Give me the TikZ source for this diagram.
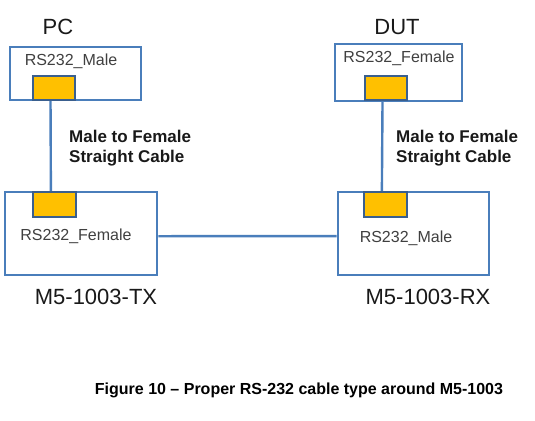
\documentclass[tikz,border=0pt]{standalone}
\usepackage{fontspec}
\setmainfont{Liberation Sans}
\usepackage{xcolor}
\definecolor{boxblue}{HTML}{4A7EBB}
\definecolor{portedge}{HTML}{3A5F8E}
\definecolor{portfill}{HTML}{FFC000}
\definecolor{labelgray}{HTML}{404040}
\begin{document}
\begin{tikzpicture}[x=1pt,y=-1pt,
  box/.style={draw=boxblue, line width=2.6pt, fill=white},
  port/.style={draw=portedge, line width=2pt, fill=portfill, minimum width=42pt, minimum height=24pt, inner sep=0pt},
  conn/.style={font=\fontsize{16}{18}\selectfont, text=labelgray, inner sep=0pt},
  dev/.style={font=\fontsize{22}{24}\selectfont, text=black!90, inner sep=0pt},
  cabletext/.style={font=\fontsize{17}{20}\selectfont\bfseries, text=black!90, align=left, anchor=north west, inner sep=0pt},
  cable/.style={draw=boxblue, line width=2.4pt}]
\useasboundingbox (0,0) rectangle (535,420);
\node[dev](pclabel) at (58,27){PC};
\node[box, minimum width=131pt, minimum height=53pt](pc) at (75.5,73.5){};
\node[conn](pcconn) at (71,61){RS232\_Male};
\node[port](pcport) at (54,88){};
\node[dev](dutlabel) at (397,27){DUT};
\node[box, minimum width=127pt, minimum height=57pt](dut) at (398.5,72.5){};
\node[conn](dutconn) at (399,58.5){RS232\_Female};
\node[port](dutport) at (386,88){};
\node[box, minimum width=152pt, minimum height=83pt](tx) at (81,233.5){};
\node[port, minimum width=43pt, minimum height=25pt](txport) at (54.5,204.5){};
\node[conn](txconn) at (76,236){RS232\_Female};
\node[dev](txlabel) at (96,297){M5-1003-TX};
\node[box, minimum width=151pt, minimum height=83pt](rx) at (413.5,233.5){};
\node[port, minimum width=43pt, minimum height=25pt](rxport) at (385.5,204.5){};
\node[conn](rxconn) at (406,238.5){RS232\_Male};
\node[dev](rxlabel) at (428,297){M5-1003-RX};
\node[cabletext](lefttext) at (69,130){Male to Female\\Straight Cable};
\node[cabletext](righttext) at (396,130){Male to Female\\Straight Cable};
\draw[cable] (pcport.-105) -- (txport.105);
\draw[cable] (dutport.-105) -- (rxport.105);
\draw[cable] (tx.-2) -- (rx.182);
\node[font=\fontsize{16}{18}\selectfont\bfseries, inner sep=0pt](caption) at (299,390){Figure 10 -- Proper RS-232 cable type around M5-1003};
\end{tikzpicture}
\end{document}
